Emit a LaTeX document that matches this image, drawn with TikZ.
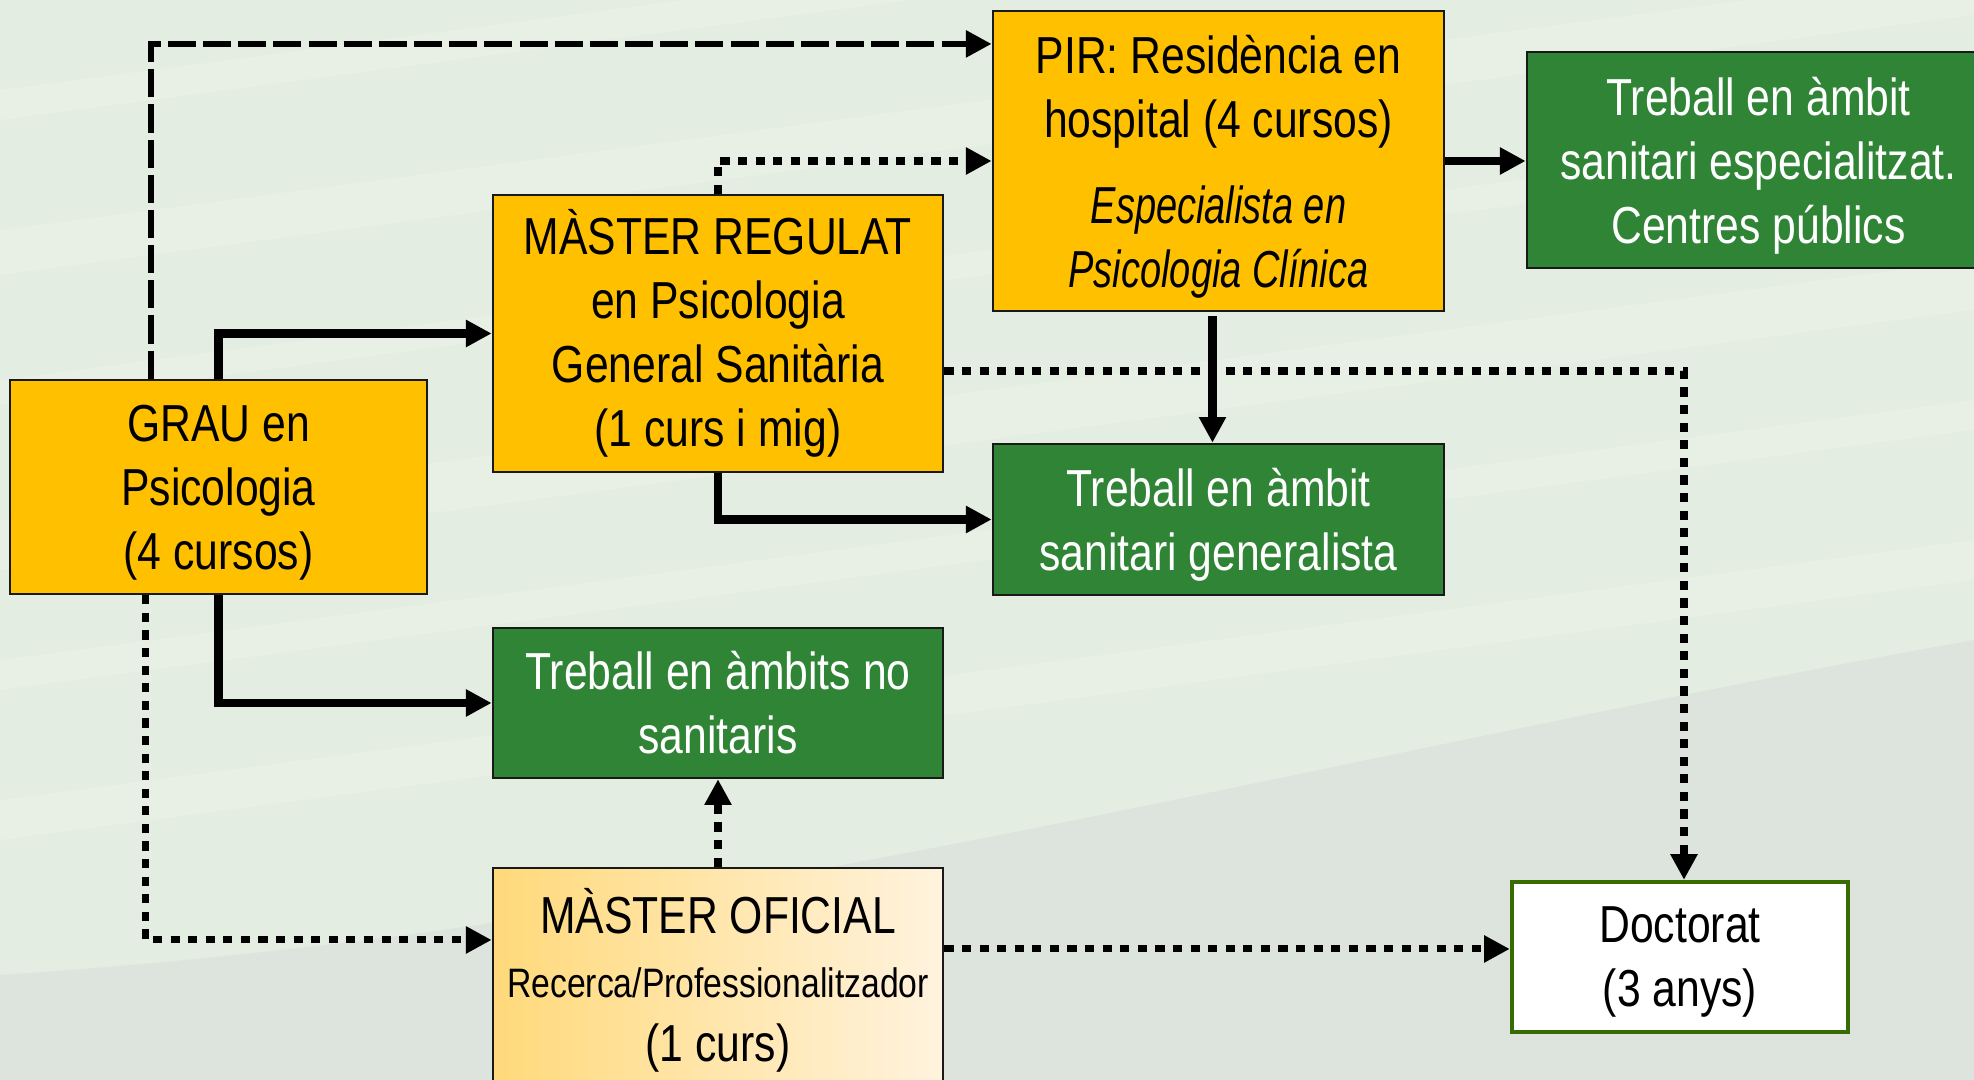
\documentclass[tikz,border=0pt]{standalone}
\usepackage{fontspec}
\setmainfont{Liberation Sans}[FakeStretch=0.82]
\newfontfamily\pirit{Liberation Sans}[FakeStretch=0.73]
\usetikzlibrary{arrows.meta, positioning, calc}
\definecolor{GuiaGold}{RGB}{255, 192, 0}
\definecolor{GuiaGreen}{RGB}{47, 133, 53}
\definecolor{GuiaDocEdge}{RGB}{56, 107, 0}
\definecolor{GuiaCreamL}{RGB}{255, 217, 122}
\definecolor{GuiaCreamR}{RGB}{255, 243, 222}
\definecolor{GuiaBgLight}{RGB}{228, 237, 225}
\definecolor{GuiaBgGray}{RGB}{221, 227, 221}

\tikzset{
  box/.style={draw=black!90, line width=0.7pt, inner sep=0pt, align=center,
    font=\fontsize{14.8}{18.2}\selectfont},
  lowtext/.style={text depth=0pt},
  goldbox/.style={box, fill=GuiaGold},
  greenbox/.style={box, fill=GuiaGreen, text=white},
  boxtext/.style={inner sep=0pt, align=center, font=\fontsize{14.8}{18.2}\selectfont},
  tip/.style={-{Triangle[length=7.3pt, width=7.3pt]}},
  solidarrow/.style={tip, line width=2.3pt},
  dotarrow/.style={tip, line width=2pt, dash pattern=on 2.6pt off 2.4pt},
  dasharrow/.style={tip, line width=1.8pt, dash pattern=on 8pt off 2pt}
}

\begin{document}
\begin{tikzpicture}[x=0.01cm, y=-0.01cm]

    % --- Background ---
    \useasboundingbox (0,0) rectangle (1974,1080);
    \fill[GuiaBgLight] (0,0) rectangle (1974,1080);
    \foreach \yy/\ww in {90/30, 230/45, 380/25, 520/50, 660/30, 800/40} {
        \fill[white, opacity=0.15] (0,\yy) -- (1974,\yy-260) -- (1974,\yy-260+\ww) -- (0,\yy+\ww) -- cycle;
    }
    \fill[GuiaBgGray] (0,1080) -- (0,975) .. controls (700,930) and (1300,760) .. (1974,640) -- (1974,1080) -- cycle;

    % --- Boxes ---
    \node[goldbox, lowtext, minimum width=4.17cm, minimum height=2.14cm] (grau) at (218.5,487)
        {GRAU en\\Psicologia\\(4 cursos)};
    \node[goldbox, minimum width=4.5cm, minimum height=2.77cm] (regulat) at (718,333.5)
        {MÀSTER REGULAT\\en Psicologia\\General Sanitària\\(1 curs i mig)};
    \node[goldbox, minimum width=4.51cm, minimum height=3cm] (pir) at (1218.5,161) {};
    \node[boxtext] (pirtxt) at (1218.5,92) {PIR: Residència en\\hospital (4 cursos)};
    \node[boxtext, font=\fontsize{14.8}{18.2}\selectfont\pirit\itshape] (pirsub) at (1218.5,242)
        {Especialista en\\Psicologia Clínica};
    \node[greenbox, lowtext, minimum width=4.63cm, minimum height=2.16cm] (esp) at (1758.5,160)
        {Treball en àmbit\\sanitari especialitzat.\\Centres públics};
    \node[greenbox, lowtext, minimum width=4.51cm, minimum height=1.51cm] (gen) at (1218.5,519.5)
        {Treball en àmbit\\sanitari generalista};
    \node[greenbox, minimum width=4.5cm, minimum height=1.5cm] (nosan) at (718,703)
        {Treball en àmbits no\\sanitaris};
    \node[box, left color=GuiaCreamL, right color=GuiaCreamR, minimum width=4.5cm,
        minimum height=2.32cm] (oficial) at (718,984) {};
    \node[boxtext] (oficialtxt) at (718,980)
        {MÀSTER OFICIAL\\{\fontsize{11.7}{14}\selectfont Recerca/Professionalitzador}\\(1 curs)};
    \node[box, lowtext, fill=white, draw=GuiaDocEdge, line width=1.2pt, minimum width=3.36cm,
        minimum height=1.5cm] (doc) at (1680,957) {Doctorat\\(3 anys)};

    % --- Connectors ---
    \draw[solidarrow] (grau.north) |- (regulat.west);
    \draw[solidarrow] (grau.south) |- (nosan.west);
    \draw[dasharrow] ([xshift=-0.675cm]grau.north) |- ([yshift=1.17cm]pir.west);
    \draw[dotarrow] ([xshift=-0.725cm]grau.south) |- ([yshift=0.44cm]oficial.west);
    \draw[dotarrow] (regulat.north) |- (pir.west);
    \draw[solidarrow] (regulat.south) |- (gen.west);
    \draw[dotarrow] ([yshift=-0.375cm]regulat.east) -| ([xshift=0.04cm]doc.north);
    \draw[solidarrow] (pir.east) -- (pir.east -| esp.west);
    \draw[solidarrow, shorten <=0.04cm] ([xshift=-0.06cm]pir.south) -- ([xshift=-0.06cm]gen.north);
    \coordinate (ofout) at ([yshift=0.35cm]oficial.east);
    \draw[dotarrow] (ofout) -- (ofout -| doc.west);
    \draw[dotarrow] (oficial.north) -- (nosan.south);

\end{tikzpicture}
\end{document}
